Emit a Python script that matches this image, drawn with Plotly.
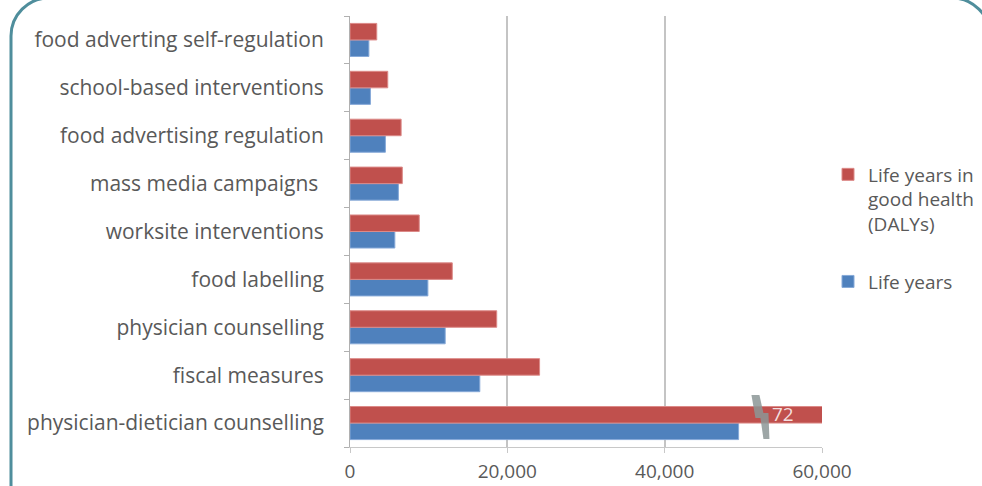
import plotly.graph_objects as go

# Data (bottom to top)
categories = [
    "physician-dietician counselling",
    "fiscal measures",
    "physician counselling",
    "food labelling",
    "worksite interventions",
    "mass media campaigns ",
    "food advertising regulation",
    "school-based interventions",
    "food adverting self-regulation",
]
life_years = [49400, 16500, 12100, 9900, 5700, 6150, 4500, 2600, 2400]
dalys = [72000, 24100, 18650, 13000, 8800, 6650, 6500, 4800, 3400]
x_ticks = [0, 20000, 40000, 60000]
x_tick_labels = ["0", "20,000", "40,000", "60,000"]
x_max = 60000
break_label = "72"
break_at = 52300

RED = "#C0504D"
BLUE = "#4F81BD"
TXT = "#595959"
FONT = "Open Sans"

fig = go.Figure()
fig.add_trace(go.Bar(
    y=categories, x=life_years, orientation="h", name="Life years",
    legendgroup="b", legendrank=2,
    marker=dict(color=BLUE, line=dict(color="#86a9d8", width=1)),
))
fig.add_trace(go.Bar(
    y=categories, x=dalys, orientation="h",
    name="Life years in<br>good health<br>(DALYs)", legendgroup="a", legendrank=1,
    marker=dict(color=RED, line=dict(color="#dc8a88", width=1)),
))

W, H = 982, 486
ML, MR, MT, MB = 350, 160, 16, 39
PW, PH = W - ML - MR, H - MT - MB


def P(px, py):
    return (px - ML) / PW, (H - MB - py) / PH


def path(cmds):
    out = []
    for c, pts in cmds:
        s = c
        s += " ".join("%.5f,%.5f" % P(*p) for p in pts)
        out.append(s)
    return " ".join(out)

k = 0.5523
r = 38
L, T, R = 11, -2, 990
frame = path([
    ("M", [(L, 600)]),
    ("L", [(L, T + r)]),
    ("C", [(L, T + r - r * k), (L + r - r * k, T), (L + r, T)]),
    ("L", [(R - r, T)]),
    ("C", [(R - r + r * k, T), (R, T + r - r * k), (R, T + r)]),
    ("L", [(R, 600)]),
])

fig.add_shape(type="path", xref="paper", yref="paper", path=frame,
              line=dict(color="#4f8e9c", width=3), layer="above")

# break symbol on the truncated bar
fig.add_shape(type="path", xref="x", yref="y", xsizemode="pixel", ysizemode="pixel",
              xanchor=break_at, yanchor=categories[0],
              path="M -10,28 L -2,28 L 2,10 L 7,10 L 8,-16 L 2,-16 L -1,5 L -6,5 Z",
              fillcolor="rgba(140,150,150,0.85)", line=dict(width=0), layer="above")
fig.add_annotation(x=break_at, y=categories[0], xref="x", yref="y", text=break_label,
                   showarrow=False, xanchor="left", xshift=9, yshift=9,
                   font=dict(family=FONT, size=19, color="#f3dede"))

fig.update_layout(
    width=W, height=H,
    margin=dict(l=ML, r=MR, t=MT, b=MB, autoexpand=False),
    paper_bgcolor="white", plot_bgcolor="white",
    barmode="group", bargap=0.31, bargroupgap=0,
    font=dict(family=FONT, color=TXT),
    legend=dict(x=(828 - ML) / PW, y=(H - MB - 228) / PH, xanchor="left", yanchor="middle",
                traceorder="grouped", font=dict(size=19, color=TXT),
                valign="top", itemclick=False, tracegroupgap=30),
    showlegend=True,
)
fig.update_xaxes(range=[0, x_max], tickvals=x_ticks, ticktext=x_tick_labels,
                 showgrid=True, gridcolor="#c4c4c4", gridwidth=2,
                 showline=True, linecolor="#c8c8c8", linewidth=1,
                 ticks="outside", ticklen=5, tickcolor="#c8c8c8",
                 ticklabelstandoff=2, zeroline=False, automargin=False,
                 tickfont=dict(size=19, color=TXT, family=FONT))
fig.update_yaxes(showgrid=False, showline=True, linecolor="#b0b0b0", linewidth=1,
                 ticks="outside", ticklen=5, tickcolor="#b0b0b0", tickson="boundaries",
                 ticklabelstandoff=21, automargin=False,
                 tickfont=dict(size=21, color=TXT, family=FONT))

fig.write_html("out.html", config={"displayModeBar": False},
               post_script="document.body.style.margin='0px';")
